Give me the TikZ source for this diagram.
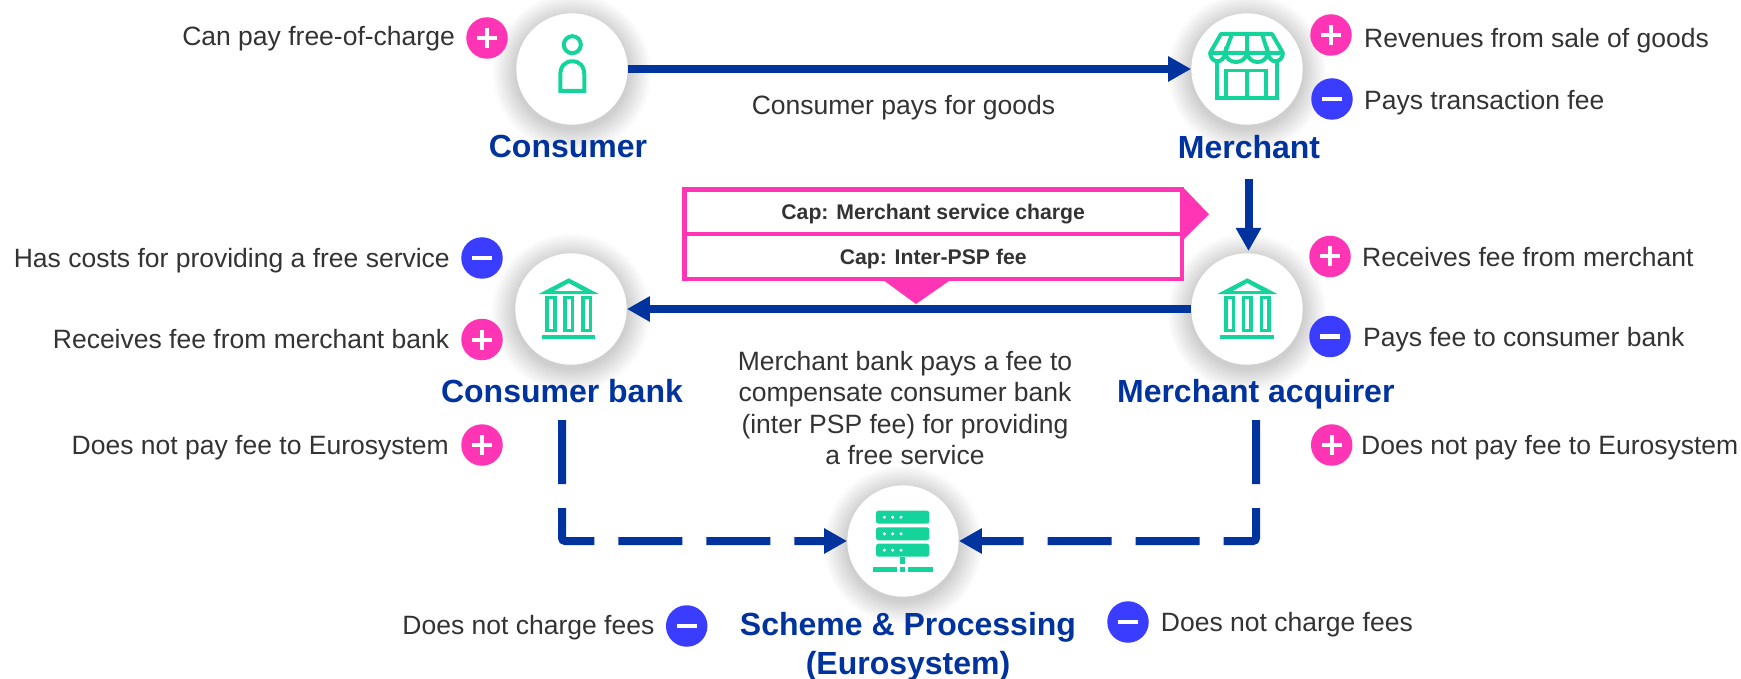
\documentclass[tikz,border=0pt]{standalone}
\usepackage{fontspec}
\setmainfont{Liberation Sans}
\usetikzlibrary{arrows.meta,positioning,calc}
\definecolor{navy}{HTML}{00339E}
\definecolor{pinkc}{HTML}{FF35B5}
\definecolor{bluec}{HTML}{3A3DFF}
\definecolor{greenc}{HTML}{14D49B}
\definecolor{txt}{HTML}{333333}
\tikzset{
  actor/.style={circle,fill=white,inner sep=0pt,minimum size=111.4pt},
  softshadow/.pic={
    \foreach \r in {57,59,...,79} \path[fill=black,fill opacity=.017] (0,4) circle (\r);
  },
  title/.style={font=\fontsize{32}{39}\selectfont\bfseries,text=navy,align=center,inner sep=0pt},
  lab/.style={font=\fontsize{26.5}{31.5}\selectfont,text=txt,inner sep=0pt,text height=19pt,text depth=6pt},
  midlab/.style={font=\fontsize{26.5}{31.5}\selectfont,text=txt,inner sep=0pt,align=center},
  plusb/.style={circle,fill=pinkc,inner sep=0pt,minimum size=41.5pt,
    path picture={\draw[white,line width=4pt] (path picture bounding box.center) ++(-10,0) -- ++(20,0)
      (path picture bounding box.center) ++(0,-10) -- ++(0,20);}},
  minusb/.style={circle,fill=bluec,inner sep=0pt,minimum size=41.5pt,
    path picture={\draw[white,line width=4.5pt] (path picture bounding box.center) ++(-10,0) -- ++(20,0);}},
  flow/.style={draw=navy,line width=8pt,-{Triangle[length=23pt,width=24pt]}},
  dashflow/.style={flow,dash pattern=on 64pt off 24pt,rounded corners=3pt},
  capbox/.style={draw=pinkc,line width=4.5pt,fill=white,inner sep=0pt,minimum width=497.5pt,minimum height=44.7pt,
    text height=20pt,text depth=3.5pt,font=\fontsize{21.2}{24}\selectfont\bfseries,text=txt},
  icon/.style={draw=greenc,line width=3.6pt},
  iconfill/.style={fill=greenc,draw=none},
  bankicon/.pic={
    \path[iconfill,even odd rule] (-30,-15) -- (0,-30.7) -- (30,-15) -- cycle
      (-14.5,-18) -- (14.5,-18) -- (0,-26) -- cycle;
    \draw[icon] (-21.6,-11.6) rectangle (-14,21.6)
                (-3.8,-11.6) rectangle (3.8,21.6)
                (14,-11.6) rectangle (21.6,21.6);
    \path[iconfill] (-27,26) rectangle (26.7,29.7);
  }
}
\begin{document}
\begin{tikzpicture}[x=1pt,y=-1pt]
\useasboundingbox[fill=white] (0,0) rectangle (1741,679);

% soft shadows
\pic at (572,69) {softshadow};
\pic at (1247,69) {softshadow};
\pic at (571,309) {softshadow};
\pic at (1247,309) {softshadow};
\pic at (903,541) {softshadow};

% actors
\node[actor] (consumer) at (572,69) {};
\node[actor] (merchant) at (1247,69) {};
\node[actor] (cbank) at (571,309) {};
\node[actor] (acquirer) at (1247,309) {};
\node[actor] (scheme) at (903,541) {};

% titles
\node[title,anchor=base] (tconsumer) at (568,157.5) {Consumer};
\node[title,anchor=base] (tmerchant) at (1249,158.5) {Merchant};
\node[title,anchor=base] (tcbank) at (562,402.5) {Consumer bank};
\node[title,anchor=base] (tacquirer) at (1255.8,402.3) {Merchant acquirer};
\node[title] (tscheme) at (908,646.5) {Scheme \& Processing\\(Eurosystem)};

% cap boxes
\path[fill=pinkc] (1183,187.3) -- (1209,214.3) -- (1183,240) -- cycle;
\path[fill=pinkc] (884.5,281) -- (916,304) -- (949,281) -- cycle;
\node[capbox] (capa) at (933.2,211.7) {Cap: Merchant service charge};
\node[capbox] (capb) at (933.2,256.5) {Cap: Inter-PSP fee};

% connectors
\coordinate (mtop) at (1248.5,179);
\coordinate (mbot) at (1248.5,251);
\coordinate (dl) at (562,420);
\coordinate (dr) at (1256,420);
\draw[flow] (consumer.east) -- (merchant.west);
\draw[flow] (mtop) -- (mbot);
\draw[flow] (acquirer.west) -- (cbank.east);
\draw[dashflow] (dl) |- (scheme.west);
\draw[dashflow] (dr) |- (scheme.east);

% icons: person
\draw[icon,line width=4pt] (572.3,44.7) circle (8.5);
\draw[icon,line width=4pt] (560.3,91) -- (560.3,75) .. controls (560.3,66) and (565,61.3) .. (572.3,61.3)
  .. controls (579.6,61.3) and (584.3,66) .. (584.3,75) -- (584.3,91) -- cycle;

% icons: store
\draw[icon,line width=4pt,line join=round] (1221,34) -- (1272,34) -- (1283,53) -- (1210,53) -- cycle;
\draw[icon,line width=4pt] (1232,34) -- (1225,53) (1247,34) -- (1247,53) (1262,34) -- (1268,53);
\draw[icon,line width=4pt] (1210,53) .. controls (1211,64) and (1224,64) .. (1225,53)
  .. controls (1227,65) and (1245,65) .. (1247,53)
  .. controls (1249,65) and (1266,65) .. (1268,53)
  .. controls (1269,64) and (1282,64) .. (1283,53);
\draw[icon,line width=4pt] (1216.5,60) -- (1216.5,98.5) -- (1277,98.5) -- (1277,60);
\draw[icon,line width=3.4pt] (1226,98.5) -- (1226,70.5) -- (1266,70.5) -- (1266,98.5) (1247,70.5) -- (1247,98.5);

% icons: banks
\pic at (568.7,309) {bankicon};
\pic at (1247.3,309) {bankicon};

% icon: server
\foreach \ya in {510.7,527.3,543.7} {
  \path[iconfill,rounded corners=2.5pt] (876,\ya) rectangle (929.3,\ya+13);
  \foreach \xa in {884.3,892.7,901} \path[fill=white] (\xa,\ya+6.5) circle (1.7);
}
\path[iconfill] (900.3,557) rectangle (905,564);
\path[iconfill] (873,567) rectangle (897,571.7);
\path[iconfill] (900.3,567) rectangle (905,571.7);
\path[iconfill] (908.3,567) rectangle (933,571.7);

% badges
\node[plusb] (b1) at (487,38) {};
\node[plusb] (b2) at (1331,35) {};
\node[minusb] (b3) at (1332,99) {};
\node[minusb] (b4) at (482,258) {};
\node[plusb] (b5) at (482,339.5) {};
\node[plusb] (b6) at (482,445) {};
\node[plusb] (b7) at (1330,256.5) {};
\node[minusb] (b8) at (1330,336.5) {};
\node[plusb] (b9) at (1331.7,445) {};
\node[minusb] (b10) at (686.7,626) {};
\node[minusb] (b11) at (1128,622) {};

% labels
\node[lab,anchor=east] (l1) at (455,39) {Can pay free-of-charge};
\node[lab,anchor=west] (l2) at (1364,41) {Revenues from sale of goods};
\node[lab,anchor=west] (l3) at (1364,103) {Pays transaction fee};
\node[lab,anchor=east] (l4) at (450,261) {Has costs for providing a free service};
\node[lab,anchor=east] (l5) at (449.3,342) {Receives fee from merchant bank};
\node[lab,anchor=west] (l7) at (1362,260) {Receives fee from merchant};
\node[lab,anchor=east] (l6) at (449,448) {Does not pay fee to Eurosystem};
\node[lab,anchor=west] (l8) at (1363,340) {Pays fee to consumer bank};
\node[lab,anchor=west] (l9) at (1361,448) {Does not pay fee to Eurosystem};
\node[lab,anchor=east] (l10) at (654.5,628) {Does not charge fees};
\node[lab,anchor=west] (l11) at (1160.7,625) {Does not charge fees};
\node[lab] (l12) at (903.5,108) {Consumer pays for goods};
\node[midlab] (l13) at (905,408) {Merchant bank pays a fee to\\compensate consumer bank\\(inter PSP fee) for providing\\a free service};
\end{tikzpicture}
\end{document}
